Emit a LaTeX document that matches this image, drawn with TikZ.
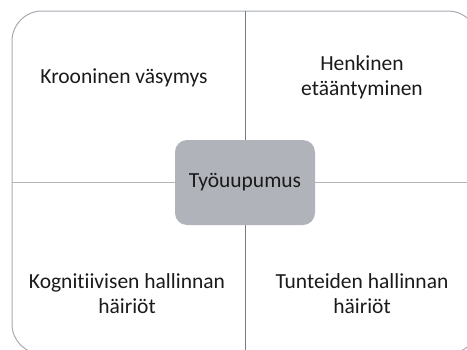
\documentclass[tikz,border=0pt]{standalone}
\usepackage{fontspec}
\setmainfont{Carlito}[Ligatures=NoCommon]
\usepackage{tikz}
\definecolor{framegray}{HTML}{A6AAB1}
\definecolor{crossv}{HTML}{767C86}
\definecolor{crossh}{HTML}{B3B5B8}
\definecolor{boxgray}{HTML}{B1B3BA}
\definecolor{ink}{HTML}{1A1A1A}
% base anchor sits on the last line of a label
\newcommand{\qtext}[4]{\node[qlabel] (#1) at (#2,#3) {#4};}

\begin{document}
\begin{tikzpicture}[x=1pt,y=-1pt,
  qlabel/.style={font=\fontsize{21.5}{25}\selectfont,align=center,text=ink,
    inner sep=0pt,anchor=base},
  frame/.style={draw=framegray,line width=1pt,rounded corners=30pt,
    minimum width=466pt,minimum height=343pt,inner sep=0pt},
  core/.style={fill=boxgray,rounded corners=12pt,minimum width=140pt,
    minimum height=85pt,font=\fontsize{21.5}{25}\selectfont,text=ink}]
  \useasboundingbox (0,0) rectangle (467,349);
  \clip (0,0) rectangle (467,349);
  \node[frame] (outer) at (245,182.5) {};
  \draw[crossv,line width=0.9pt] (outer.north) -- (outer.south);
  \draw[crossh,line width=1.1pt] (outer.west) -- (outer.east);
  \node[core] (tyo) at (245,182.5) {Työuupumus};
  % quadrants
  \qtext{kroon}{124}{83}{Krooninen väsymys}
  \qtext{henk}{362}{95}{Henkinen\\etääntyminen}
  \qtext{kogn}{127}{313}{Kognitiivisen hallinnan\\häiriöt}
  \qtext{tunt}{362}{313}{Tunteiden hallinnan\\häiriöt}
\end{tikzpicture}
\end{document}
